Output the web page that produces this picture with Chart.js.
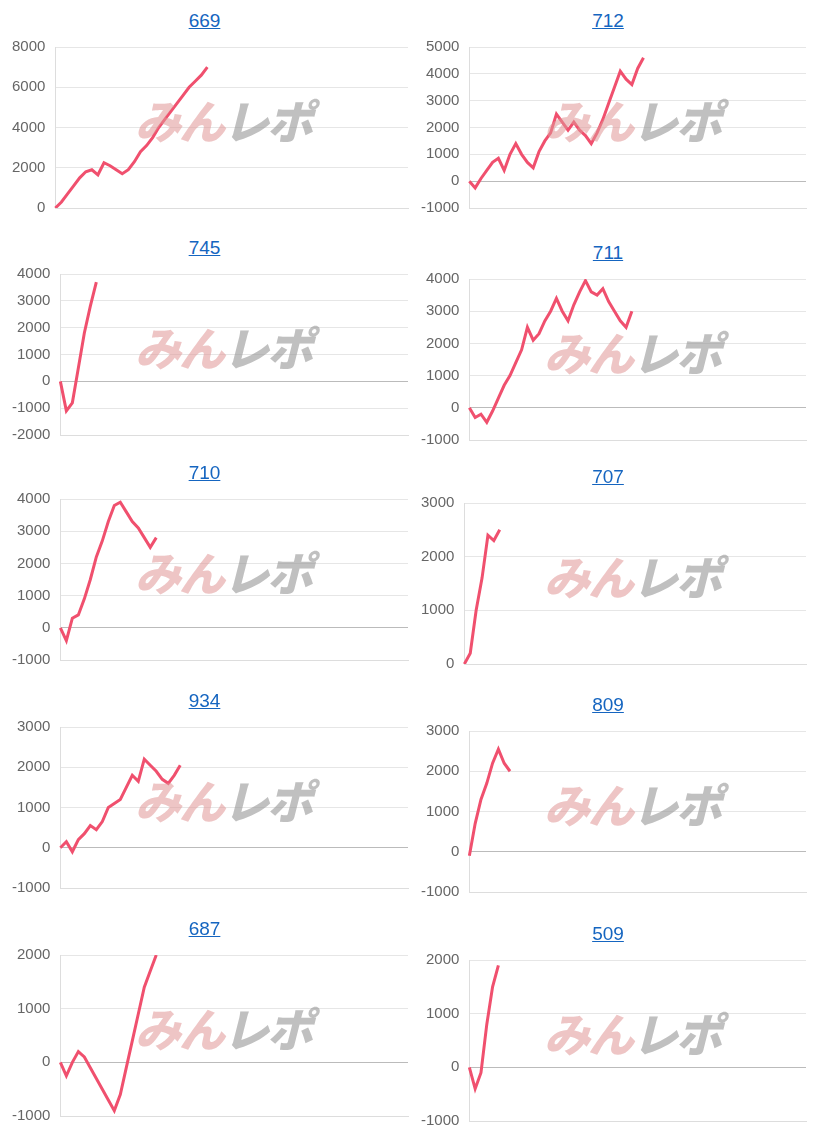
<!DOCTYPE html>
<html><head><meta charset="utf-8">
<script src="https://cdn.jsdelivr.net/npm/chart.js@4"></script>
<style>
body{margin:0;background:#fff;font-family:Arial,"Liberation Sans",sans-serif;}
.p{position:absolute;height:228px;}
.t{position:absolute;top:10px;left:0;width:100%;text-align:center;font-size:19px;}
.t a{color:#1565c0;text-decoration:underline;}
.c{position:absolute;top:28px;left:0;width:100%;height:199px;}
.w{position:absolute;left:135px;top:86px;font:italic 900 46px "Noto Sans CJK JP",sans-serif;letter-spacing:-2px;pointer-events:none;opacity:0.85;}
.w .a{color:rgba(225,150,150,0.65);} .w .b{color:rgba(150,150,150,0.7);}
</style></head><body>
<script>
const titles=["669","712","745","711","710","707","934","809","687","509"];
const s669=[0,300,700,1100,1500,1800,1900,1650,2250,2100,1900,1700,1900,2300,2800,3100,3500,4000,4400,4800,5200,5600,6000,6300,6600,7000];
const s712=[0,-250,100,400,700,850,400,1000,1400,1000,700,500,1100,1500,1800,2500,2200,1900,2200,1900,1700,1400,1800,2300,2900,3500,4100,3800,3600,4200,4600];
const s745=[0,-1100,-800,500,1800,2800,3700];
const s711=[0,-300,-200,-450,-100,300,700,1000,1400,1800,2500,2100,2300,2700,3000,3400,3000,2700,3200,3600,3950,3600,3500,3700,3300,3000,2700,2500,3000];
const s710=[0,-400,300,400,900,1500,2200,2700,3300,3800,3900,3600,3300,3100,2800,2500,2800];
const s707=[0,200,1000,1600,2400,2300,2500];
const s934=[0,150,-100,200,350,550,450,650,1000,1100,1200,1500,1800,1650,2200,2050,1900,1700,1600,1800,2050];
const s809=[-100,700,1300,1700,2200,2550,2200,2000];
const s687=[0,-250,0,200,100,-100,-300,-500,-700,-900,-600,-100,400,900,1400,1700,2000];
const s509=[0,-400,-100,800,1500,1900];
const series=[s669,s712,s745,s711,s710,s707,s934,s809,s687,s509];
const yMin=[0,-1000,-2000,-1000,-1000,0,-1000,-1000,-1000,-1000];
const yMax=[8000,5000,4000,4000,4000,3000,3000,3000,2000,2000];
const yStep=[2000,1000,1000,1000,1000,1000,1000,1000,1000,1000];
const slots=Array.from({length:59},(_,i)=>String(i));
const tops=[0,0,227,232,452,456,680,684,908,913];
series.forEach((d,i)=>{
  const p=document.createElement('div');p.className='p';
  p.style.left=(i%2?409:0)+'px';p.style.top=tops[i]+'px';p.style.width=(i%2?398:409)+'px';
  p.innerHTML='<div class="t"><a>'+titles[i]+'</a></div><div class="c"><canvas></canvas></div><div class="w"><span class="a">みん</span><span class="b">レポ</span></div>';
  document.body.appendChild(p);
  new Chart(p.querySelector('canvas'),{type:'line',
    data:{labels:slots,datasets:[{data:d,borderColor:'#f0506e',borderWidth:3,pointRadius:0,tension:0,fill:false}]},
    options:{animation:false,responsive:true,maintainAspectRatio:false,
      layout:{padding:{left:2,right:1,bottom:10}},
      plugins:{legend:{display:false},tooltip:{enabled:false}},
      scales:{x:{ticks:{display:false},grid:{display:false},border:{color:'#ddd'}},
        y:{min:yMin[i],max:yMax[i],ticks:{stepSize:yStep[i],color:'#666',padding:10,font:{size:15,family:'Arial, Liberation Sans'},callback:v=>String(v)},
          grid:{color:c=>c.tick.value===0?'#bbb':'#e6e6e6',drawTicks:false},border:{color:'#ddd'}}}}});
});
</script></body></html>
